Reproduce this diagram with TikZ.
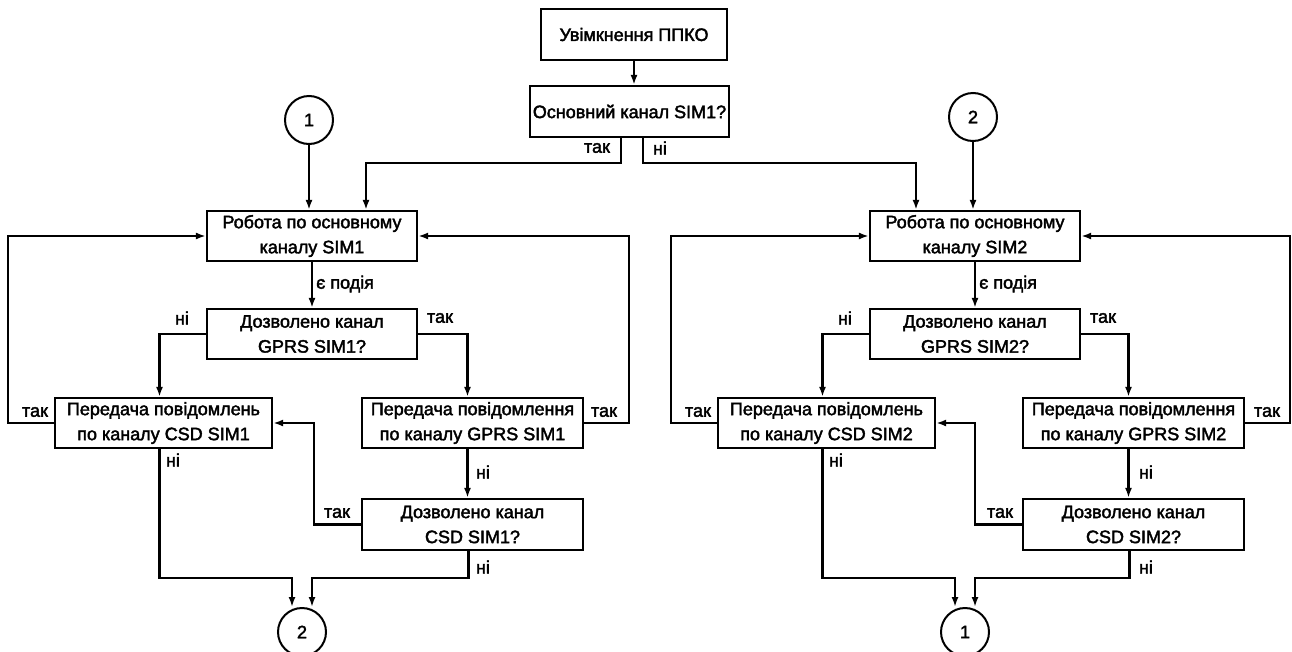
\documentclass[tikz,border=0pt]{standalone}
\usepackage{fontspec}
\setmainfont{Liberation Sans}[FakeBold=2.2]
\usetikzlibrary{arrows.meta}
\tikzset{
  box/.style={draw, line width=2.2pt, rectangle, inner sep=0pt, align=center, font=\fontsize{18}{25}\selectfont},
  conn/.style={draw, line width=2pt, circle, inner sep=0pt, minimum size=48pt, font=\fontsize{18}{22}\selectfont},
  arr/.style={line width=2.2pt, -{Latex[length=10pt,width=7pt]}},
  lbl/.style={inner sep=0pt, font=\fontsize{18}{22}\selectfont}
}
\begin{document}
\begin{tikzpicture}[x=1pt,y=-1pt]
\useasboundingbox (0,0) rectangle (1292,651);
% top
\node[box, minimum width=186pt, minimum height=51pt] (T) at (634,34.5) {Увімкнення ППКО};
\node[box, minimum width=199pt, minimum height=51pt] (M) at (629.5,111.5) {Основний канал SIM1?};
\draw[arr] (T.south) -- (T.south |- M.north);
% connectors top
\node[conn] (c1t) at (309,120) {1};
\node[conn] (c2t) at (973,117) {2};
% left half
\node[box, minimum width=210pt, minimum height=50pt] (R1) at (312,236) {Робота по основному\\каналу SIM1};
\node[box, minimum width=210pt, minimum height=50pt] (G1q) at (312,334) {Дозволено канал\\GPRS SIM1?};
\node[box, minimum width=217pt, minimum height=50pt] (C1) at (163.5,423) {Передача повідомлень\\по каналу CSD SIM1};
\node[box, minimum width=221pt, minimum height=50pt] (G1) at (472.5,423) {Передача повідомлення\\по каналу GPRS SIM1};
\node[box, minimum width=221pt, minimum height=51pt] (C1q) at (472.5,524.5) {Дозволено канал\\CSD SIM1?};
\node[conn] (c2b) at (302,632) {2};
% right half
\node[box, minimum width=210pt, minimum height=50pt] (R2) at (975,236) {Робота по основному\\каналу SIM2};
\node[box, minimum width=210pt, minimum height=50pt] (G2q) at (975,334) {Дозволено канал\\GPRS SIM2?};
\node[box, minimum width=217pt, minimum height=50pt] (C2) at (826.5,423) {Передача повідомлень\\по каналу CSD SIM2};
\node[box, minimum width=221pt, minimum height=50pt] (G2) at (1133.5,423) {Передача повідомлення\\по каналу GPRS SIM2};
\node[box, minimum width=221pt, minimum height=51pt] (C2q) at (1133.5,524.5) {Дозволено канал\\CSD SIM2?};
\node[conn] (c1b) at (965,632) {1};

% top branches
\draw[arr] ([xshift=-8.5pt]M.south) -- ++(0,25) -| ([xshift=54pt]R1.north);
\draw[arr] ([xshift=13.5pt]M.south) -- ++(0,25) -| ([xshift=-59pt]R2.north);
\draw[arr] (c1t.south) -- (c1t.south |- R1.north);
\draw[arr] (c2t.south) -- (c2t.south |- R2.north);
\node[lbl] at (597,148) {так};
\node[lbl] at (660,148) {ні};

% left flow
\draw[arr] (R1.south) -- (G1q.north);
\node[lbl, anchor=west] at (316,284) {є подія};
\draw[arr] (G1q.west) -| ([xshift=-4pt]C1.north);
\draw[arr] (G1q.east) -| ([xshift=-5pt]G1.north);
\draw[arr] (C1.west) -- ++(-46,0) |- (R1.west);
\draw[arr] (G1.east) -- ++(45,0) |- (R1.east);
\draw[arr] ([xshift=-5pt]G1.south) -- ([xshift=-5pt]C1q.north);
\draw[arr] (C1q.west) -- ++(-47,0) |- (C1.east);
\draw[arr] ([xshift=-4pt]C1.south) -- ++(0,129) -| ([xshift=-10pt]c2b.north);
\draw[arr] ([xshift=-4pt]C1q.south) -- ++(0,27) -| ([xshift=10pt]c2b.north);
\node[lbl] at (182,318) {ні};
\node[lbl] at (440,318) {так};
\node[lbl] at (35,412) {так};
\node[lbl] at (604,412) {так};
\node[lbl] at (173,460) {ні};
\node[lbl] at (483,472) {ні};
\node[lbl] at (337,513) {так};
\node[lbl] at (483,567) {ні};

% right flow
\draw[arr] (R2.south) -- (G2q.north);
\node[lbl, anchor=west] at (979,284) {є подія};
\draw[arr] (G2q.west) -| ([xshift=-4pt]C2.north);
\draw[arr] (G2q.east) -| ([xshift=-5pt]G2.north);
\draw[arr] (C2.west) -- ++(-46,0) |- (R2.west);
\draw[arr] (G2.east) -- ++(45,0) |- (R2.east);
\draw[arr] ([xshift=-5pt]G2.south) -- ([xshift=-5pt]C2q.north);
\draw[arr] (C2q.west) -- ++(-47,0) |- (C2.east);
\draw[arr] ([xshift=-4pt]C2.south) -- ++(0,129) -| ([xshift=-10pt]c1b.north);
\draw[arr] ([xshift=-4pt]C2q.south) -- ++(0,27) -| ([xshift=10pt]c1b.north);
\node[lbl] at (845,318) {ні};
\node[lbl] at (1103,318) {так};
\node[lbl] at (698,412) {так};
\node[lbl] at (1267,412) {так};
\node[lbl] at (836,460) {ні};
\node[lbl] at (1146,472) {ні};
\node[lbl] at (1000,513) {так};
\node[lbl] at (1146,567) {ні};
\end{tikzpicture}
\end{document}
